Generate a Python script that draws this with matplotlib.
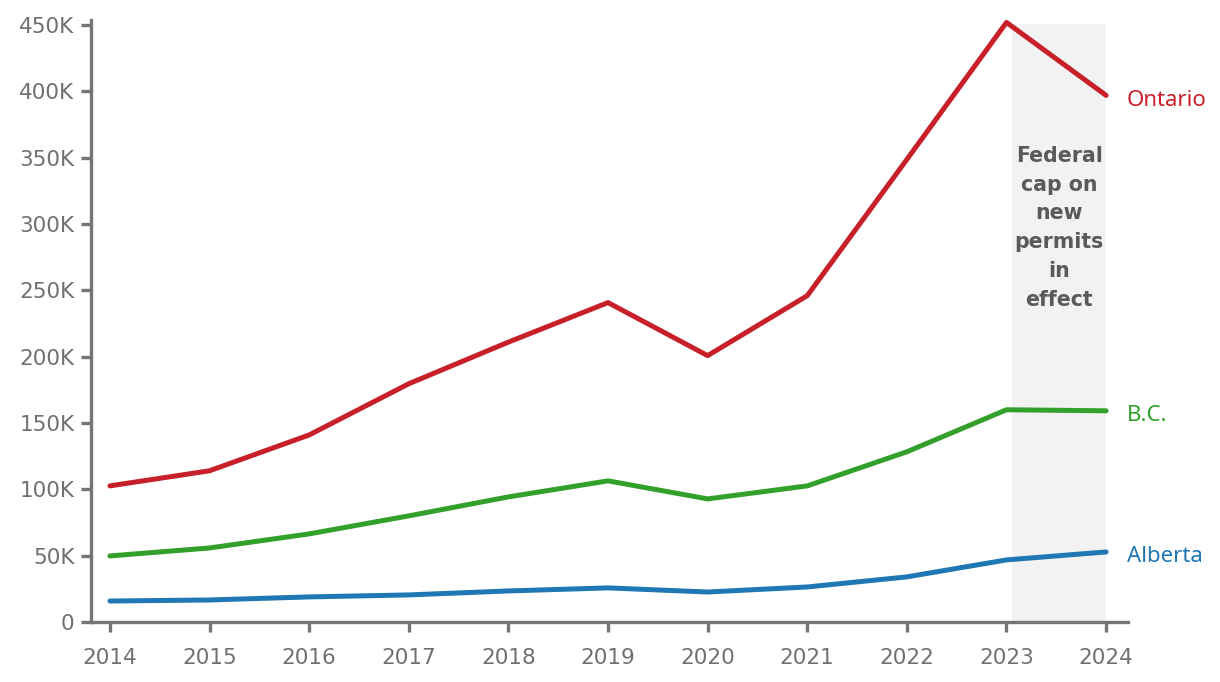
import matplotlib.pyplot as plt
from matplotlib.ticker import FuncFormatter

plt.rcParams['font.family'] = ['DejaVu Sans']

# data (permit holders)
years = [2014, 2015, 2016, 2017, 2018, 2019, 2020, 2021, 2022, 2023, 2024]
ontario = [102600, 114000, 141000, 179600, 211000, 240800, 200800, 246000, 348700, 452000, 397000]
bc = [49800, 55800, 66400, 80000, 94300, 106400, 92800, 102600, 128300, 160000, 159200]
alberta = [15800, 16600, 18900, 20400, 23400, 25700, 22600, 26400, 34000, 46800, 52800]

gray = '#757575'
red = '#c8202a'
green = '#33a02c'
blue = '#1f77b4'

fig = plt.figure(figsize=(12.2, 6.82), dpi=100)
ax = fig.add_axes([0.0746, 0.088, 0.85, 0.883])

# shaded cap period
ax.axvspan(2023.06, 2024, ymax=451000 / 454000, color='#f2f2f2', zorder=0, lw=0)
ax.text(2023.53, 359000, 'Federal\ncap on\nnew\npermits\nin\neffect', ha='center', va='top',
        fontsize=14.8, fontweight='bold', color='#5a5a5a', linespacing=1.55)

ax.plot(years, ontario, color=red, lw=3.6, solid_capstyle='round')
ax.plot(years, bc, color=green, lw=3.6, solid_capstyle='round')
ax.plot(years, alberta, color=blue, lw=3.6, solid_capstyle='round')

lab = dict(fontsize=16, va='center', family=['Noto Sans', 'DejaVu Sans'])
ax.text(2024.21, ontario[-1] - 3500, 'Ontario', color=red, **lab)
ax.text(2024.21, bc[-1] - 3500, 'B.C.', color=green, **lab)
ax.text(2024.21, alberta[-1] - 3500, 'Alberta', color=blue, **lab)

ax.set_xlim(2013.81, 2024.22)
ax.set_ylim(0, 454000)
ax.set_xticks(years)
ax.set_yticks(range(0, 450001, 50000))
ax.yaxis.set_major_formatter(FuncFormatter(lambda v, p: '0' if v == 0 else f'{int(v/1000)}K'))

for s in ['top', 'right']:
    ax.spines[s].set_visible(False)
for s in ['left', 'bottom']:
    ax.spines[s].set_color(gray)
    ax.spines[s].set_linewidth(2.4)
ax.tick_params(colors=gray, width=2.4, length=7, labelsize=15.5, pad=5)
ax.tick_params(axis='x', pad=12)
for lbl in ax.get_xticklabels() + ax.get_yticklabels():
    lbl.set_color('#707070')

fig.savefig('out.png', dpi=100)
